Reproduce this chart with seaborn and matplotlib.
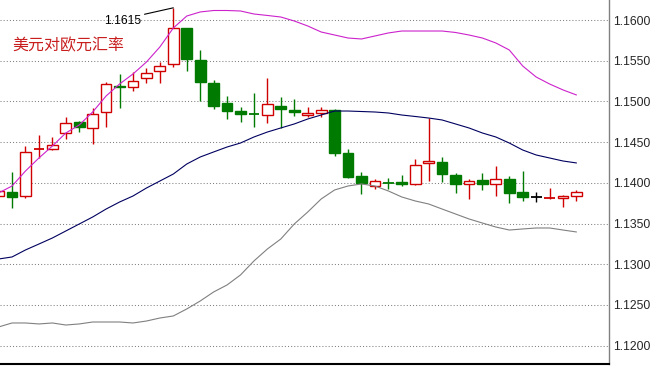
import numpy as np
import pandas as pd
import matplotlib
matplotlib.use("Agg")
import matplotlib.pyplot as plt
import seaborn as sns

# daily candles
opens = [1.13838, 1.13887, 1.13838, 1.14416, 1.14416, 1.14612, 1.14747, 1.14674, 1.14870, 1.15190,
         1.15177, 1.15288, 1.15374, 1.15460, 1.15902, 1.15509, 1.15226, 1.14981, 1.14882, 1.14846,
         1.14833, 1.14944, 1.14895, 1.14833, 1.14858, 1.14895, 1.14366, 1.14084, 1.13961, 1.13998,
         1.14010, 1.13986, 1.14244, 1.14256, 1.14096, 1.13986, 1.14035, 1.13986, 1.14047, 1.13887,
         1.13826, 1.13814, 1.13814, 1.13838]
highs = [1.13936, 1.14133, 1.14452, 1.14588, 1.14563, 1.14809, 1.14760, 1.14919, 1.15239, 1.15337,
         1.15362, 1.15411, 1.15484, 1.16150, 1.15902, 1.15632, 1.15263, 1.15067, 1.14932, 1.15104,
         1.15288, 1.15054, 1.15030, 1.14932, 1.14932, 1.14907, 1.14416, 1.14133, 1.14047, 1.14059,
         1.14096, 1.14293, 1.14796, 1.14317, 1.14121, 1.14047, 1.14121, 1.14207, 1.14084, 1.14145,
         1.13887, 1.13936, 1.13850, 1.13912]
lows = [1.13801, 1.13691, 1.13814, 1.14305, 1.14403, 1.14538, 1.14624, 1.14477, 1.14686, 1.14919,
        1.15128, 1.15226, 1.15226, 1.15423, 1.15374, 1.15005, 1.14907, 1.14784, 1.14747, 1.14686,
        1.14735, 1.14674, 1.14821, 1.14809, 1.14809, 1.14330, 1.14059, 1.13863, 1.13924, 1.13924,
        1.13961, 1.13973, 1.14022, 1.14010, 1.13875, 1.13801, 1.13912, 1.13838, 1.13752, 1.13777,
        1.13764, 1.13801, 1.13703, 1.13777]
closes = [1.13900, 1.13826, 1.14379, 1.14418, 1.14465, 1.14735, 1.14686, 1.14846, 1.15214, 1.15171,
          1.15251, 1.15349, 1.15435, 1.15902, 1.15521, 1.15239, 1.14944, 1.14882, 1.14846, 1.14844,
          1.14968, 1.14907, 1.14870, 1.14858, 1.14895, 1.14366, 1.14072, 1.13998, 1.14022, 1.13996,
          1.13986, 1.14219, 1.14268, 1.14108, 1.13986, 1.14022, 1.13986, 1.14047, 1.13875, 1.13826,
          1.13826, 1.13816, 1.13832, 1.13887]

# bollinger bands
upper = [1.13875, 1.13961, 1.14145, 1.14305, 1.14452, 1.14612, 1.14710, 1.14870, 1.15067, 1.15214,
         1.15337, 1.15484, 1.15669, 1.15902, 1.16049, 1.16099, 1.16117, 1.16117, 1.16111, 1.16074,
         1.16056, 1.16037, 1.15988, 1.15927, 1.15853, 1.15816, 1.15779, 1.15767, 1.15804, 1.15841,
         1.15865, 1.15865, 1.15865, 1.15865, 1.15847, 1.15816, 1.15779, 1.15718, 1.15632, 1.15435,
         1.15300, 1.15214, 1.15141, 1.15079]
middle = [1.13064, 1.13089, 1.13175, 1.13248, 1.13322, 1.13408, 1.13494, 1.13580, 1.13678, 1.13764,
          1.13838, 1.13936, 1.14022, 1.14108, 1.14231, 1.14317, 1.14379, 1.14440, 1.14489, 1.14563,
          1.14624, 1.14674, 1.14723, 1.14784, 1.14833, 1.14882, 1.14882, 1.14876, 1.14870, 1.14858,
          1.14833, 1.14815, 1.14796, 1.14772, 1.14723, 1.14674, 1.14612, 1.14563, 1.14489, 1.14403,
          1.14342, 1.14305, 1.14268, 1.14244]
lower = [1.12229, 1.12278, 1.12278, 1.12266, 1.12278, 1.12253, 1.12266, 1.12290, 1.12290, 1.12290,
         1.12278, 1.12302, 1.12339, 1.12364, 1.12450, 1.12548, 1.12659, 1.12745, 1.12868, 1.13040,
         1.13187, 1.13310, 1.13494, 1.13641, 1.13801, 1.13912, 1.13961, 1.13986, 1.13961, 1.13900,
         1.13826, 1.13777, 1.13740, 1.13678, 1.13617, 1.13556, 1.13506, 1.13457, 1.13420, 1.13433,
         1.13445, 1.13445, 1.13420, 1.13396]

yticks = [1.1200, 1.1250, 1.1300, 1.1350, 1.1400, 1.1450, 1.1500, 1.1550, 1.1600]
title = "美元对欧元汇率"
peak_label = "1.1615"
peak_idx = 13

RED = "#d00000"
GREEN = "#007a00"

sns.set_style("white")
plt.rcParams['font.family'] = ['Noto Sans CJK SC', 'DejaVu Sans']

fig = plt.figure(figsize=(6.54, 3.66), dpi=100)
ax = fig.add_axes([0, 2 / 366, 609 / 654, 364 / 366])

idx = np.arange(len(opens))

# candles
for i in idx:
    o, h, l, c = opens[i], highs[i], lows[i], closes[i]
    if c > o:
        col = RED
    elif c < o:
        col = GREEN
    else:
        col = "black"
    ax.vlines(i, l, h, color=col, lw=1.0, zorder=2)
    if abs(c - o) < 0.00005:
        ax.hlines(o, i - 0.4, i + 0.4, color=col, lw=1.3, zorder=3)
    elif c > o:
        ax.bar(i, c - o, bottom=o, width=0.8, facecolor="white", edgecolor=RED, lw=1.0, zorder=3)
    else:
        ax.bar(i, o - c, bottom=c, width=0.8, facecolor=GREEN, edgecolor=GREEN, lw=1.0, zorder=3)

# bands
bands = pd.DataFrame({"idx": idx, "upper": upper, "middle": middle, "lower": lower})
sns.lineplot(data=bands, x="idx", y="upper", color="#cc22cc", lw=0.8, ax=ax, zorder=4)
sns.lineplot(data=bands, x="idx", y="middle", color="#000060", lw=0.8, ax=ax, zorder=4)
sns.lineplot(data=bands, x="idx", y="lower", color="#808080", lw=0.8, ax=ax, zorder=4)

ax.set_xlim(0.104, 45.42)
ax.set_ylim(1.11774, 1.16246)
ax.set_xlabel("")
ax.set_ylabel("")
ax.set_xticks([])

ax.yaxis.tick_right()
ax.set_yticks(yticks)
ax.set_yticklabels([f"{v:.4f}" for v in yticks], family="Liberation Sans", fontsize=8.8)
ax.tick_params(axis="y", length=0, pad=3)
ax.yaxis.grid(True, linestyle=(0, (1, 2)), color="#808080", lw=0.75)
ax.set_axisbelow(True)

for s in ["left", "top"]:
    ax.spines[s].set_visible(False)
ax.spines["right"].set_color("#808080")
ax.spines["right"].set_linewidth(1.0)
ax.spines["bottom"].set_color("black")
ax.spines["bottom"].set_linewidth(1.5)

ax.text(12 / 609, 1 - 46 / 364, title, transform=ax.transAxes, color="#c81e1e",
        fontsize=11.5, va="center", ha="left")

ax.annotate(peak_label, xy=(peak_idx, highs[peak_idx]), xytext=(7.85, 1.15988),
            ha="left", va="center", fontsize=8.8, family="Liberation Sans", color="black",
            arrowprops=dict(arrowstyle="-", color="black", lw=0.8, shrinkA=0, shrinkB=0,
                            relpos=(1, 1)))

fig.savefig("out.png", dpi=100)
